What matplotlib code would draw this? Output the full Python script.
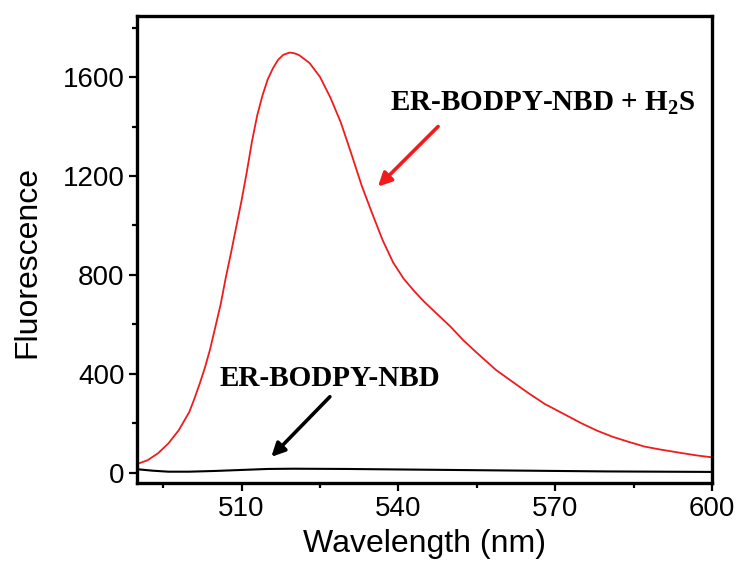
import numpy as np
import matplotlib
matplotlib.use("Agg")
import matplotlib.pyplot as plt
from matplotlib.ticker import MultipleLocator

# emission spectra
wl_probe_h2s = [490, 492, 494, 496, 498, 500, 501, 502, 503, 504, 505, 506, 507,
                508, 509, 510, 511, 512, 513, 514, 515, 516, 517, 518, 519.2, 520,
                521, 523, 525, 527, 529, 531, 533, 535, 537, 539, 541, 543, 545,
                547.3, 550, 552.4, 555, 558.7, 562, 565, 568, 571.5, 575, 578, 581,
                584, 587, 590, 594, 597, 600]
fl_probe_h2s = [35, 50, 78, 118, 172, 245, 300, 360, 425, 500, 590, 680, 790,
                890, 995, 1100, 1215, 1340, 1445, 1525, 1590, 1635, 1670, 1690, 1699, 1697,
                1689, 1657, 1601, 1517, 1416, 1290, 1160, 1048, 940, 850, 785, 735, 690,
                644, 590, 536, 485, 415, 365, 320, 278, 239, 200, 170, 145,
                125, 106, 94, 80, 70, 62]

wl_probe = [490, 493, 496, 500, 505, 510, 515, 520, 530, 540, 550, 560, 570, 580, 590, 600]
fl_probe = [14, 8, 4, 4, 7, 11, 15, 16, 15, 13, 11, 9, 7, 5, 4, 3]

x_ticks = [510, 540, 570, 600]
y_ticks = [0, 400, 800, 1200, 1600]

plt.rcParams['font.family'] = ['Liberation Sans', 'DejaVu Sans']
plt.rcParams['mathtext.fontset'] = 'custom'
plt.rcParams['mathtext.rm'] = 'Liberation Serif:bold'
plt.rcParams['mathtext.bf'] = 'Liberation Serif:bold'

fig = plt.figure(figsize=(7.42, 5.63), dpi=100)
ax = fig.add_axes([0.1846, 0.142, 0.775, 0.8296])

ax.plot(wl_probe_h2s, fl_probe_h2s, color='#ee1c1c', lw=1.3)
ax.plot(wl_probe, fl_probe, color='black', lw=1.5)

ax.set_xlim(490, 600)
ax.set_ylim(-42, 1847)
ax.set_xticks(x_ticks)
ax.set_yticks(y_ticks)
ax.xaxis.set_minor_locator(MultipleLocator(15))
ax.yaxis.set_minor_locator(MultipleLocator(200))

for sp in ax.spines.values():
    sp.set_linewidth(2.4)
ax.tick_params(which='major', direction='out', length=6, width=1.6,
               labelsize=20, pad=3)
ax.tick_params(which='minor', direction='out', length=3.5, width=1.6)

ax.set_xlabel('Wavelength (nm)', fontsize=23)
ax.set_ylabel('Fluorescence', fontsize=23)
ax.xaxis.set_label_coords(0.5, -0.098)
ax.yaxis.set_label_coords(-0.165, 0.473)

lab = dict(family='Liberation Serif', fontweight='bold', fontsize=21,
           ha='center', va='center', color='black')
ax.text(567.6, 1495, r'ER-BODPY-NBD + H$_{\mathrm{2}}$S', **lab)
ax.text(526.9, 381, 'ER-BODPY-NBD', **lab)

ax.annotate('', xy=(536.1, 1157), xytext=(547.6, 1400),
            arrowprops=dict(arrowstyle='-|>', color='#ee1c1c', lw=2.6,
                            mutation_scale=20, shrinkA=0, shrinkB=0))
ax.annotate('', xy=(515.7, 64), xytext=(526.9, 307),
            arrowprops=dict(arrowstyle='-|>', color='black', lw=2.6,
                            mutation_scale=20, shrinkA=0, shrinkB=0))

fig.savefig('out.png', dpi=100)
